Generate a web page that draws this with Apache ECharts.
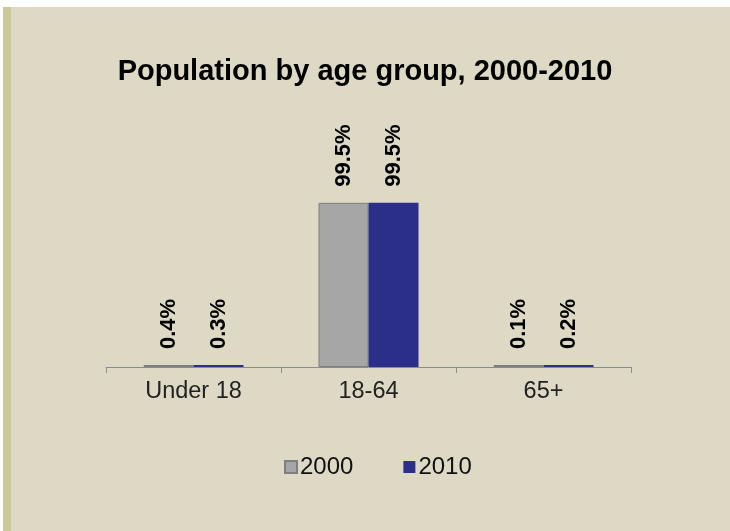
<!DOCTYPE html>
<html><head><meta charset="utf-8">
<script src="https://cdn.jsdelivr.net/npm/echarts@6/dist/echarts.min.js"></script>
<style>html,body{margin:0;padding:0;background:#fff}#main{width:730px;height:531px}</style>
</head><body><div id="main"></div>
<script>
const categories = ['Under 18', '18-64', '65+'];
const values2000 = [0.4, 99.5, 0.1];
const values2010 = [0.3, 99.5, 0.2];
const seriesNames = ['2000', '2010'];

const chart = echarts.init(document.getElementById('main'), null, {renderer: 'canvas'});
const font = 'Liberation Sans, Arial, sans-serif';
const labelCfg = {
  show: true, position: 'top', rotate: 90, distance: 16,
  align: 'left', verticalAlign: 'middle',
  formatter: p => p.value + '%',
  fontFamily: font, fontWeight: 'bold', fontSize: 22, color: '#000'
};
chart.setOption({
  backgroundColor: '#DDD9C4',
  animation: false,
  graphic: [
    {type: 'rect', left: 0, top: 0, shape: {width: 730, height: 7}, style: {fill: '#fff'}, silent: true},
    {type: 'rect', left: 0, top: 0, shape: {width: 3, height: 531}, style: {fill: '#fff'}, silent: true},
    {type: 'rect', left: 3, top: 7, shape: {width: 8, height: 524}, style: {fill: '#CACA98'}, silent: true}
  ],
  title: {
    text: 'Population by age group, 2000-2010',
    left: 'center', top: 52,
    textStyle: {fontFamily: font, fontWeight: 'bold', fontSize: 29, color: '#000'}
  },
  legend: {
    data: seriesNames,
    left: 279, top: 450,
    itemWidth: 12, itemHeight: 12, itemGap: 50,
    icon: 'rect',
    textStyle: {fontFamily: font, fontSize: 24, color: '#111', padding: [0,0,0,-2]}
  },
  grid: {left: 106, right: 99, top: 202, bottom: 164, containLabel: false},
  xAxis: {
    type: 'category', data: categories,
    axisLine: {lineStyle: {color: '#8c8c8c', width: 1}},
    axisTick: {show: true, length: 6, lineStyle: {color: '#8c8c8c'}},
    axisLabel: {fontFamily: font, fontSize: 23.5, color: '#222', margin: 13}
  },
  yAxis: {
    type: 'value', min: 0, max: 100, show: false,
    splitLine: {show: false}
  },
  series: [
    {
      name: seriesNames[0], type: 'bar', data: values2000,
      barWidth: 50, barGap: 0, barMinHeight: 2,
      itemStyle: {color: '#A6A6A6', borderColor: '#7f7f7f', borderWidth: 1},
      label: labelCfg
    },
    {
      name: seriesNames[1], type: 'bar', data: values2010,
      barWidth: 50, barGap: 0, barMinHeight: 2,
      itemStyle: {color: '#2C2F8A', borderColor: '#2C2F8A', borderWidth: 0},
      label: labelCfg
    }
  ]
});
</script></body></html>
